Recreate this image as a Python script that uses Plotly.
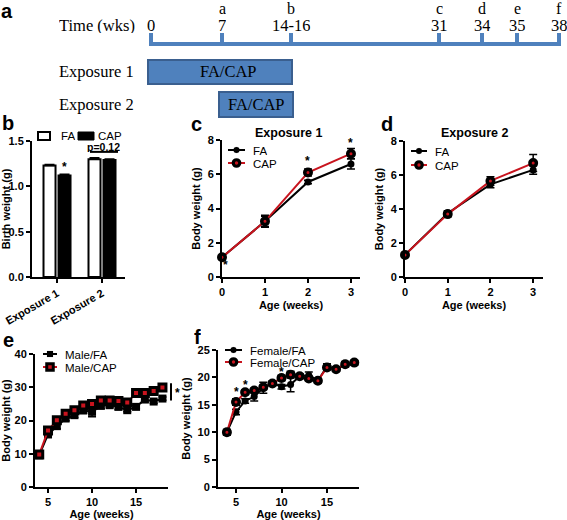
import plotly.graph_objects as go

W, H = 567, 520


def px(x):
    return x / W


def py(y):
    return 1 - y / H


# ---------------- data ----------------
timeline_labels = ["0", "7", "14-16", "31", "34", "35", "38"]
timeline_letters = ["", "a", "b", "c", "d", "e", "f"]
exposure_names = ["Exposure 1", "Exposure 2"]
exposure_text = "FA/CAP"

bw_groups = ["Exposure 1", "Exposure 2"]
bw_fa = [1.23, 1.30]
bw_fa_err = [0.012, 0.015]
bw_cap = [1.12, 1.29]
bw_cap_err = [0.012, 0.012]

age_pre = [0, 1, 2, 3]
e1_fa = [1.15, 3.25, 5.55, 6.6]
e1_fa_err = [0.05, 0.3, 0.1, 0.3]
e1_cap = [1.15, 3.25, 6.1, 7.2]
e1_cap_err = [0.05, 0.35, 0.2, 0.3]
e2_fa = [1.3, 3.75, 5.45, 6.3]
e2_fa_err = [0.05, 0.15, 0.2, 0.25]
e2_cap = [1.3, 3.7, 5.65, 6.7]
e2_cap_err = [0.05, 0.15, 0.25, 0.5]

age_post = [4, 5, 6, 7, 8, 9, 10, 11, 12, 13, 14, 15, 16, 17, 18]
male_fa = [9.6, 15.8, 18.3, 20.6, 21.6, 23.0, 22.6, 24.4, 24.6, 24.1, 23.1, 24.1, 26.3, 25.7, 26.6]
male_fa_err = [1.0, 0.8, 0.8, 0.7, 0.7, 0.8, 1.5, 0.8, 0.7, 0.8, 0.5, 0.5, 0.7, 0.5, 0.5]
male_cap = [9.8, 17.0, 20.1, 22.0, 23.1, 24.5, 25.0, 26.0, 26.0, 25.9, 25.4, 28.3, 28.3, 28.9, 29.9]
male_cap_err = [0.8, 0.7, 0.7, 0.6, 0.6, 0.6, 0.6, 0.6, 0.6, 0.6, 0.6, 0.6, 0.6, 0.6, 0.6]
female_fa = [10.0, 13.7, 15.7, 16.5, 18.1, 18.9, 18.3, 18.7, 20.2, 20.4, 19.4, 22.0, 21.5, 22.4, 22.6]
female_fa_err = [0.5, 0.5, 0.4, 0.8, 1.0, 0.4, 0.4, 1.3, 0.4, 0.6, 0.4, 0.5, 0.4, 0.5, 0.4]
female_cap = [10.0, 15.5, 17.3, 17.6, 18.2, 18.9, 19.9, 20.5, 20.2, 19.8, 19.4, 21.8, 21.5, 22.4, 22.7]
female_cap_err = [0.5, 0.6, 0.4, 0.4, 0.4, 0.4, 0.5, 0.6, 0.4, 0.4, 0.4, 0.4, 0.4, 0.4, 0.4]

# ---------------- styles ----------------
SANS = "Liberation Sans, Arial, sans-serif"
SERIF = "Liberation Serif, Times New Roman, serif"
RED = "#C8141E"
TL_BLUE = "#4F81BD"
BOX_EDGE = "#3A5F8F"

fig = go.Figure()

err_style = dict(type="data", color="black", thickness=1.5, width=4)

# ---- panel b: bars ----
fig.add_trace(go.Bar(
    x=bw_groups, y=bw_fa, name="FA", showlegend=False,
    marker=dict(color="white", line=dict(color="black", width=2)),
    error_y=dict(type="data", array=bw_fa_err, arrayminus=[0, 0], symmetric=False,
                 color="black", thickness=1.5, width=5),
    xaxis="x", yaxis="y"))
fig.add_trace(go.Bar(
    x=bw_groups, y=bw_cap, name="CAP", showlegend=False,
    marker=dict(color="black", line=dict(color="black", width=2)),
    error_y=dict(type="data", array=bw_cap_err, arrayminus=[0, 0], symmetric=False,
                 color="black", thickness=1.5, width=5),
    xaxis="x", yaxis="y"))


def series(x, y, err, xa, ya, symbol, fill, size, lw, lcolor, name):
    fig.add_trace(go.Scatter(
        x=x, y=y, name=name, mode="lines+markers", showlegend=False,
        line=dict(color=lcolor, width=2),
        marker=dict(symbol=symbol, color=fill, size=size, line=dict(color="black", width=lw)),
        error_y=dict(array=err, **err_style), cliponaxis=False,
        xaxis=xa, yaxis=ya))


series(age_pre, e1_fa, e1_fa_err, "x2", "y2", "circle", "black", 7, 0, "black", "FA")
series(age_pre, e1_cap, e1_cap_err, "x2", "y2", "circle", RED, 6.5, 3.5, RED, "CAP")
series(age_pre, e2_fa, e2_fa_err, "x3", "y3", "circle", "black", 7, 0, "black", "FA")
series(age_pre, e2_cap, e2_cap_err, "x3", "y3", "circle", RED, 6.5, 3.5, RED, "CAP")
series(age_post, male_fa, male_fa_err, "x4", "y4", "square", "black", 8, 0, "black", "Male/FA")
series(age_post, male_cap, male_cap_err, "x4", "y4", "square", RED, 7, 3, RED, "Male/CAP")
series(age_post, female_fa, female_fa_err, "x5", "y5", "circle", "black", 7, 0, "black", "Female/FA")
series(age_post, female_cap, female_cap_err, "x5", "y5", "circle", RED, 6.5, 3.5, RED, "Female/CAP")

# ---------------- axes ----------------
tickfont = dict(family=SANS, size=11, color="black", weight="bold")
titlefont = dict(family=SANS, size=11, color="black", weight="bold")
ax = dict(showline=True, linecolor="black", linewidth=2, ticks="outside", ticklen=4,
          tickwidth=2, tickcolor="black", showgrid=False, zeroline=False,
          tickfont=tickfont, automargin=False, fixedrange=True)

layout_axes = dict(
    xaxis=dict(ax, domain=[px(32), px(125)], range=[-0.556, 1.511], anchor="y",
               tickangle=-30, type="category"),
    yaxis=dict(ax, domain=[py(277), py(141)], range=[0, 1.5], dtick=0.5, tickformat=".1f",
               anchor="x", title=dict(text="Birth weight (g)", font=titlefont, standoff=4)),
    xaxis2=dict(ax, domain=[px(222), px(360)], range=[0, 3.21], dtick=1, anchor="y2",
                title=dict(text="Age (weeks)", font=titlefont, standoff=4)),
    yaxis2=dict(ax, domain=[py(277), py(140)], range=[0, 8], dtick=2, anchor="x2",
                title=dict(text="Body weight (g)", font=titlefont, standoff=5)),
    xaxis3=dict(ax, domain=[px(405), px(543)], range=[0, 3.23], dtick=1, anchor="y3",
                title=dict(text="Age (weeks)", font=titlefont, standoff=4)),
    yaxis3=dict(ax, domain=[py(277), py(141)], range=[0, 8], dtick=2, anchor="x3",
                title=dict(text="Body weight (g)", font=titlefont, standoff=5)),
    xaxis4=dict(ax, domain=[px(35), px(168)], range=[3.52, 18.63], tickvals=[5, 10, 15],
                anchor="y4", title=dict(text="Age (weeks)", font=titlefont, standoff=4)),
    yaxis4=dict(ax, domain=[py(487), py(354)], range=[0, 40], dtick=10, anchor="x4",
                title=dict(text="Body weight (g)", font=titlefont, standoff=5)),
    xaxis5=dict(ax, domain=[px(218), px(359)], range=[3.02, 18.52], tickvals=[5, 10, 15],
                anchor="y5", title=dict(text="Age (weeks)", font=titlefont, standoff=4)),
    yaxis5=dict(ax, domain=[py(487), py(350)], range=[0, 25], dtick=5, anchor="x5",
                title=dict(text="Body weight (g)", font=titlefont, standoff=5)),
)

shapes = []
annotations = []


def text(x, y, t, size=11, bold=False, family=SANS, xanchor="center", xref="paper",
         yref="paper", color="black", height=None):
    a = dict(x=x, y=y, xref=xref, yref=yref, text=t, showarrow=False, xanchor=xanchor,
             yanchor="middle", borderpad=0,
             font=dict(family=family, size=size, color=color,
                       weight="bold" if bold else "normal"))
    if height:
        a["height"] = height
    annotations.append(a)


# ---- panel a: timeline schematic ----
tl_tick_px = [151, 222, 291, 439, 482, 517, 559]
tl_line_y = 44
shapes.append(dict(type="line", xref="paper", yref="paper", x0=px(149), x1=px(561),
                   y0=py(tl_line_y), y1=py(tl_line_y), line=dict(color=TL_BLUE, width=4)))
for xp, lab, let in zip(tl_tick_px, timeline_labels, timeline_letters):
    shapes.append(dict(type="line", xref="paper", yref="paper", x0=px(xp), x1=px(xp),
                       y0=py(33), y1=py(tl_line_y), line=dict(color=TL_BLUE, width=4)))
    text(px(xp), py(25.5), lab, size=16.5, family=SERIF, height=15)
    if let:
        text(px(xp), py(8.5), let, size=16, family=SERIF, height=15)
text(px(97), py(25.5), "Time (wks)", size=16.5, family=SERIF, height=15)

exp_boxes = [(tl_tick_px[0] - 3, tl_tick_px[2] + 1, 60, 84, 228),
             (tl_tick_px[1] - 3, tl_tick_px[2] + 2, 92, 117, 256)]
for name, (x0, x1, y0, y1, tx) in zip(exposure_names, exp_boxes):
    shapes.append(dict(type="rect", xref="paper", yref="paper", x0=px(x0), x1=px(x1),
                       y0=py(y1), y1=py(y0), fillcolor=TL_BLUE,
                       line=dict(color=BOX_EDGE, width=2)))
    text(px(tx), py((y0 + y1) / 2), exposure_text, size=16.5, family=SERIF)
    text(px(58), py((y0 + y1) / 2), name, size=16.5, family=SERIF, xanchor="left")

# ---- panel letters ----
for let, (lx, ly) in zip("abcdef", [(7, 11), (8, 123), (196, 124), (387, 124), (8, 340), (197, 337)]):
    text(px(lx), py(ly), let, size=20, bold=True, height=18)

# ---- panel titles ----
text(px(288), py(133), "Exposure 1", size=12.5, bold=True)
text(px(474), py(133), "Exposure 2", size=12.5, bold=True)


# ---- manual legends ----
def leg_line_item(x0, x1, y, label, symbol, fill, lcolor, size, lw):
    shapes.append(dict(type="line", xref="paper", yref="paper", x0=px(x0), x1=px(x1),
                       y0=py(y), y1=py(y), line=dict(color=lcolor, width=2)))
    cx = (x0 + x1) / 2
    r = size / 2
    shapes.append(dict(type="circle" if symbol == "circle" else "rect", xref="paper",
                       yref="paper", x0=px(cx - r), x1=px(cx + r), y0=py(y + r), y1=py(y - r),
                       fillcolor=fill, line=dict(color="black", width=lw)))
    text(px(x1 + 7), py(y), label, size=11.5, xanchor="left", height=11)


leg_line_item(228, 245, 150, "FA", "circle", "black", "black", 6, 0.1)
leg_line_item(228, 245, 163, "CAP", "circle", RED, RED, 6.5, 3.2)
leg_line_item(411, 427, 151, "FA", "circle", "black", "black", 6, 0.1)
leg_line_item(411, 427, 165, "CAP", "circle", RED, RED, 6.5, 3.2)
leg_line_item(43, 57, 354, "Male/FA", "square", "black", "black", 6, 0.1)
leg_line_item(43, 57, 367, "Male/CAP", "square", RED, RED, 6.5, 3)
leg_line_item(225, 242, 350, "Female/FA", "circle", "black", "black", 6, 0.1)
leg_line_item(225, 242, 362, "Female/CAP", "circle", RED, RED, 6.5, 3.2)

# bar legend
shapes.append(dict(type="rect", xref="paper", yref="paper", x0=px(38), x1=px(50),
                   y0=py(140), y1=py(132), fillcolor="white", line=dict(color="black", width=2)))
text(px(60), py(136), "FA", size=11.5, xanchor="left", height=11)
shapes.append(dict(type="rect", xref="paper", yref="paper", x0=px(78), x1=px(94),
                   y0=py(140), y1=py(132), fillcolor="black", line=dict(color="black", width=1)))
text(px(97), py(136), "CAP", size=11.5, xanchor="left", height=11)

# ---- significance marks ----
text(0.167, 1.21, "*", size=12, bold=True, xref="x", yref="y")
shapes.append(dict(type="line", xref="x", yref="y", x0=0.733, x1=1.356, y0=1.38, y1=1.38,
                   line=dict(color="black", width=2)))
text(1.04, 1.43, "p=0.12", size=10.5, bold=True, xref="x", yref="y", height=10)

text(0.07, 0.7, "*", size=12, bold=True, xref="x2", yref="y2")
text(2, 6.75, "*", size=12, bold=True, xref="x2", yref="y2")
text(3, 7.85, "*", size=12, bold=True, xref="x2", yref="y2")

text(5, 17.3, "*", size=12, bold=True, xref="x5", yref="y5")
text(6, 18.7, "*", size=12, bold=True, xref="x5", yref="y5")
text(10, 21.0, "*", size=12, bold=True, xref="x5", yref="y5")

shapes.append(dict(type="line", xref="paper", yref="y4", x0=px(171), x1=px(171),
                   y0=26.0, y1=31.2, line=dict(color="black", width=2)))
text(px(177), 28.2, "*", size=12, bold=True, yref="y4")

fig.update_layout(
    width=W, height=H, margin=dict(l=0, r=0, t=0, b=0),
    paper_bgcolor="white", plot_bgcolor="white",
    barmode="group", bargap=0.333, bargroupgap=0.2,
    showlegend=False, font=dict(family=SANS, color="black"),
    shapes=shapes, annotations=annotations, **layout_axes)

fig.write_html("out.html", config={"displayModeBar": False},
               post_script="document.body.style.margin='0';")
